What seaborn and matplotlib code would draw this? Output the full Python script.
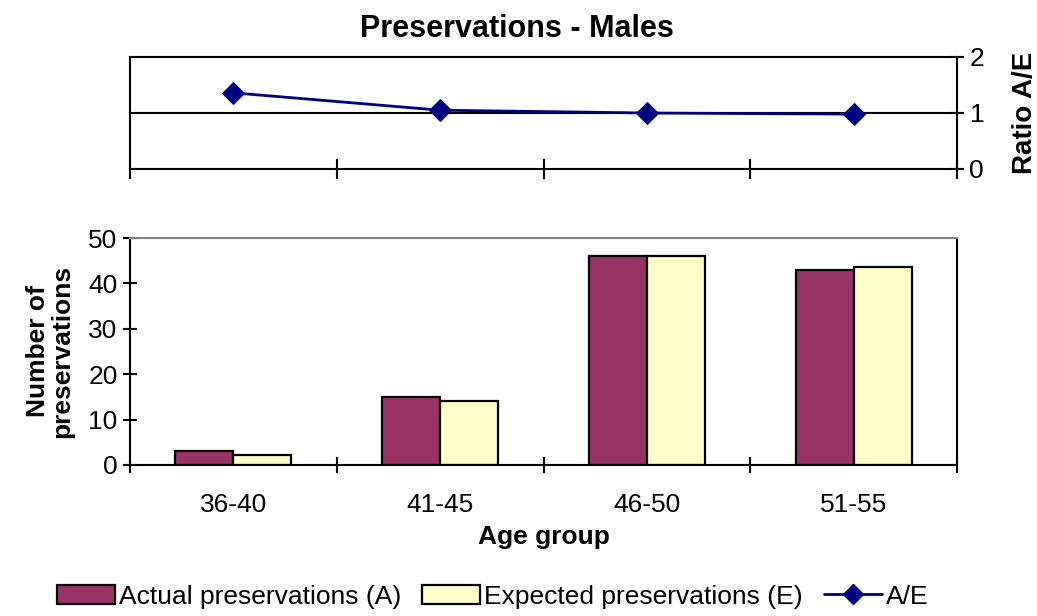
import matplotlib
matplotlib.use("Agg")
import matplotlib.pyplot as plt
from matplotlib.patches import Patch
from matplotlib.lines import Line2D
import seaborn as sns
import pandas as pd
import numpy as np

categories = ["36-40", "41-45", "46-50", "51-55"]
actual = [3, 15, 46, 43]
expected = [2.2, 14.2, 46.1, 43.7]
ratio = [1.36, 1.05, 1.0, 0.98]
series_names = ["Actual preservations (A)", "Expected preservations (E)"]

sns.set_theme(style="white")
plt.rcParams["font.family"] = ["Liberation Sans", "DejaVu Sans"]
plt.rcParams["text.color"] = "black"
plt.rcParams["axes.labelcolor"] = "black"
plt.rcParams["xtick.color"] = "black"
plt.rcParams["ytick.color"] = "black"

col_a = "#993366"
col_e = "#FFFFCC"
col_line = "#000080"

df = pd.DataFrame({
    "Age group": categories * 2,
    "value": actual + expected,
    "series": [series_names[0]] * 4 + [series_names[1]] * 4,
})
pos = np.arange(len(categories))
df_ratio = pd.DataFrame({"x": pos, "ratio": ratio})

fig = plt.figure(figsize=(10.37, 6.16), dpi=100)
L, R = 130 / 1037, 957 / 1037
ax = fig.add_axes([L, 1 - 465 / 616, R - L, (465 - 238) / 616])
ax_top = fig.add_axes([L, 1 - 169 / 616, R - L, (169 - 57) / 616])

# ---- bottom bar chart
sns.barplot(data=df, x="Age group", y="value", hue="series",
            palette=[col_a, col_e], width=0.56, edgecolor="black",
            linewidth=1.6, ax=ax, legend=False, saturation=1)
ax.set_xlim(-0.5, len(categories) - 0.5)
ax.set_ylim(0, 50)
ax.set_yticks([0, 10, 20, 30, 40, 50])
ax.tick_params(axis="y", direction="inout", length=10, width=1.5,
               labelsize=19, pad=4, left=True, colors="black")
ax.set_xticks(pos, categories)
ax.tick_params(axis="x", length=0, labelsize=19, pad=20, colors="black")
ax.set_xticks(np.arange(len(categories) + 1) - 0.5, minor=True)
ax.tick_params(axis="x", which="minor", direction="inout", length=12,
               width=1.5, bottom=True)
ax.set_xlabel("Age group", fontsize=19, fontweight="bold", labelpad=6,
              color="black")
ax.set_ylabel("Number of\npreservations", fontsize=19, fontweight="bold",
              labelpad=10, linespacing=1.0, color="black")
for s in ["left", "bottom"]:
    ax.spines[s].set_color("black")
    ax.spines[s].set_linewidth(1.5)
ax.spines["top"].set_color("#808080")
ax.spines["top"].set_linewidth(1.5)
ax.spines["right"].set_color("black")
ax.spines["right"].set_linewidth(1.5)

# ---- top ratio line
sns.lineplot(data=df_ratio, x="x", y="ratio", color=col_line, marker="D",
             markersize=11, markeredgecolor=col_line, linewidth=2,
             ax=ax_top, zorder=5)
ax_top.set_xlim(-0.5, len(categories) - 0.5)
ax_top.set_ylim(0, 2)
ax_top.axhline(1, color="black", linewidth=1.5, zorder=1)
ax_top.yaxis.tick_right()
ax_top.yaxis.set_label_position("right")
ax_top.set_yticks([0, 1, 2])
ax_top.tick_params(axis="y", direction="inout", length=10, width=1.5,
                   labelsize=19, right=True, left=False, pad=4,
                   colors="black")
ax_top.set_xticks(np.arange(len(categories) + 1) - 0.5)
ax_top.set_xticklabels([])
ax_top.tick_params(axis="x", direction="inout", length=14, width=1.5,
                   bottom=True)
ax_top.set_xlabel("")
ax_top.set_ylabel("Ratio A/E", fontsize=20, fontweight="bold", labelpad=20,
                  color="black")
for s in ax_top.spines.values():
    s.set_color("black")
    s.set_linewidth(1.5)

fig.suptitle("Preservations - Males", fontsize=22, fontweight="bold",
             y=0.978, va="top", color="black", x=0.4985)

handles = [
    Patch(facecolor=col_a, edgecolor="black", linewidth=1.6),
    Patch(facecolor=col_e, edgecolor="black", linewidth=1.6),
    Line2D([0], [0], color=col_line, marker="D", markersize=10, linewidth=2),
]
fig.legend(handles, series_names + ["A/E"], loc="center",
           bbox_to_anchor=(0.475, 0.031), ncol=3, frameon=False,
           fontsize=19, handlelength=2.2, handleheight=0.75,
           handletextpad=0.15, columnspacing=0.8)

fig.savefig("out.png", dpi=100)
